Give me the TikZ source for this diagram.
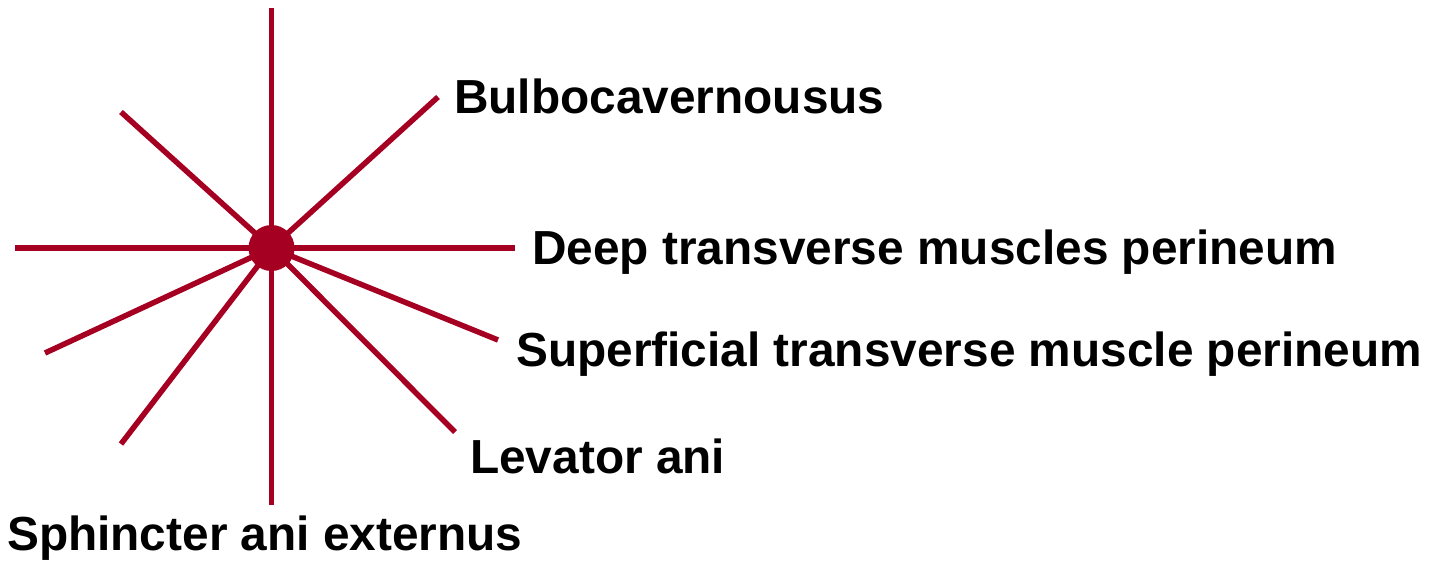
\documentclass[tikz,border=0pt]{standalone}
\usepackage{fontspec}
\setmainfont{Liberation Sans}
\definecolor{spoke}{HTML}{A50021}
\begin{document}
\begin{tikzpicture}[x=1pt,y=-1pt,
  spokeline/.style={draw=spoke,line width=5.5pt},
  hub/.style={circle,fill=spoke,minimum size=46pt,inner sep=0pt},
  lbl/.style={anchor=base west,inner sep=0pt,font=\fontsize{47.8}{52}\selectfont\bfseries}]
\useasboundingbox (0,0) rectangle (1447,560);
\coordinate (c) at (271.5,248);
\coordinate (eN) at (271.5,8);
\coordinate (eS) at (271.5,505);
\coordinate (eW) at (15,248);
\coordinate (eE) at (515,248);
\coordinate (eNE) at (438,97);
\coordinate (eNW) at (121,112);
\coordinate (eWSW) at (45,353);
\coordinate (eESE) at (498,340);
\coordinate (eSW) at (121,444);
\coordinate (eSE) at (455,432);
\foreach \e in {eN,eS,eW,eE,eNE,eNW,eWSW,eESE,eSW,eSE}
  \draw[spokeline] (c) -- (\e);
\node[hub] (h) at (c) {};
\node[lbl] (l1) at (454,113) {Bulbocavernousus};
\node[lbl] (l2) at (532,264) {Deep transverse muscles perineum};
\node[lbl] (l3) at (516,366) {Superficial transverse muscle perineum};
\node[lbl] (l4) at (470,473) {Levator ani};
\node[lbl] (l5) at (7,550) {Sphincter ani externus};
\end{tikzpicture}
\end{document}
